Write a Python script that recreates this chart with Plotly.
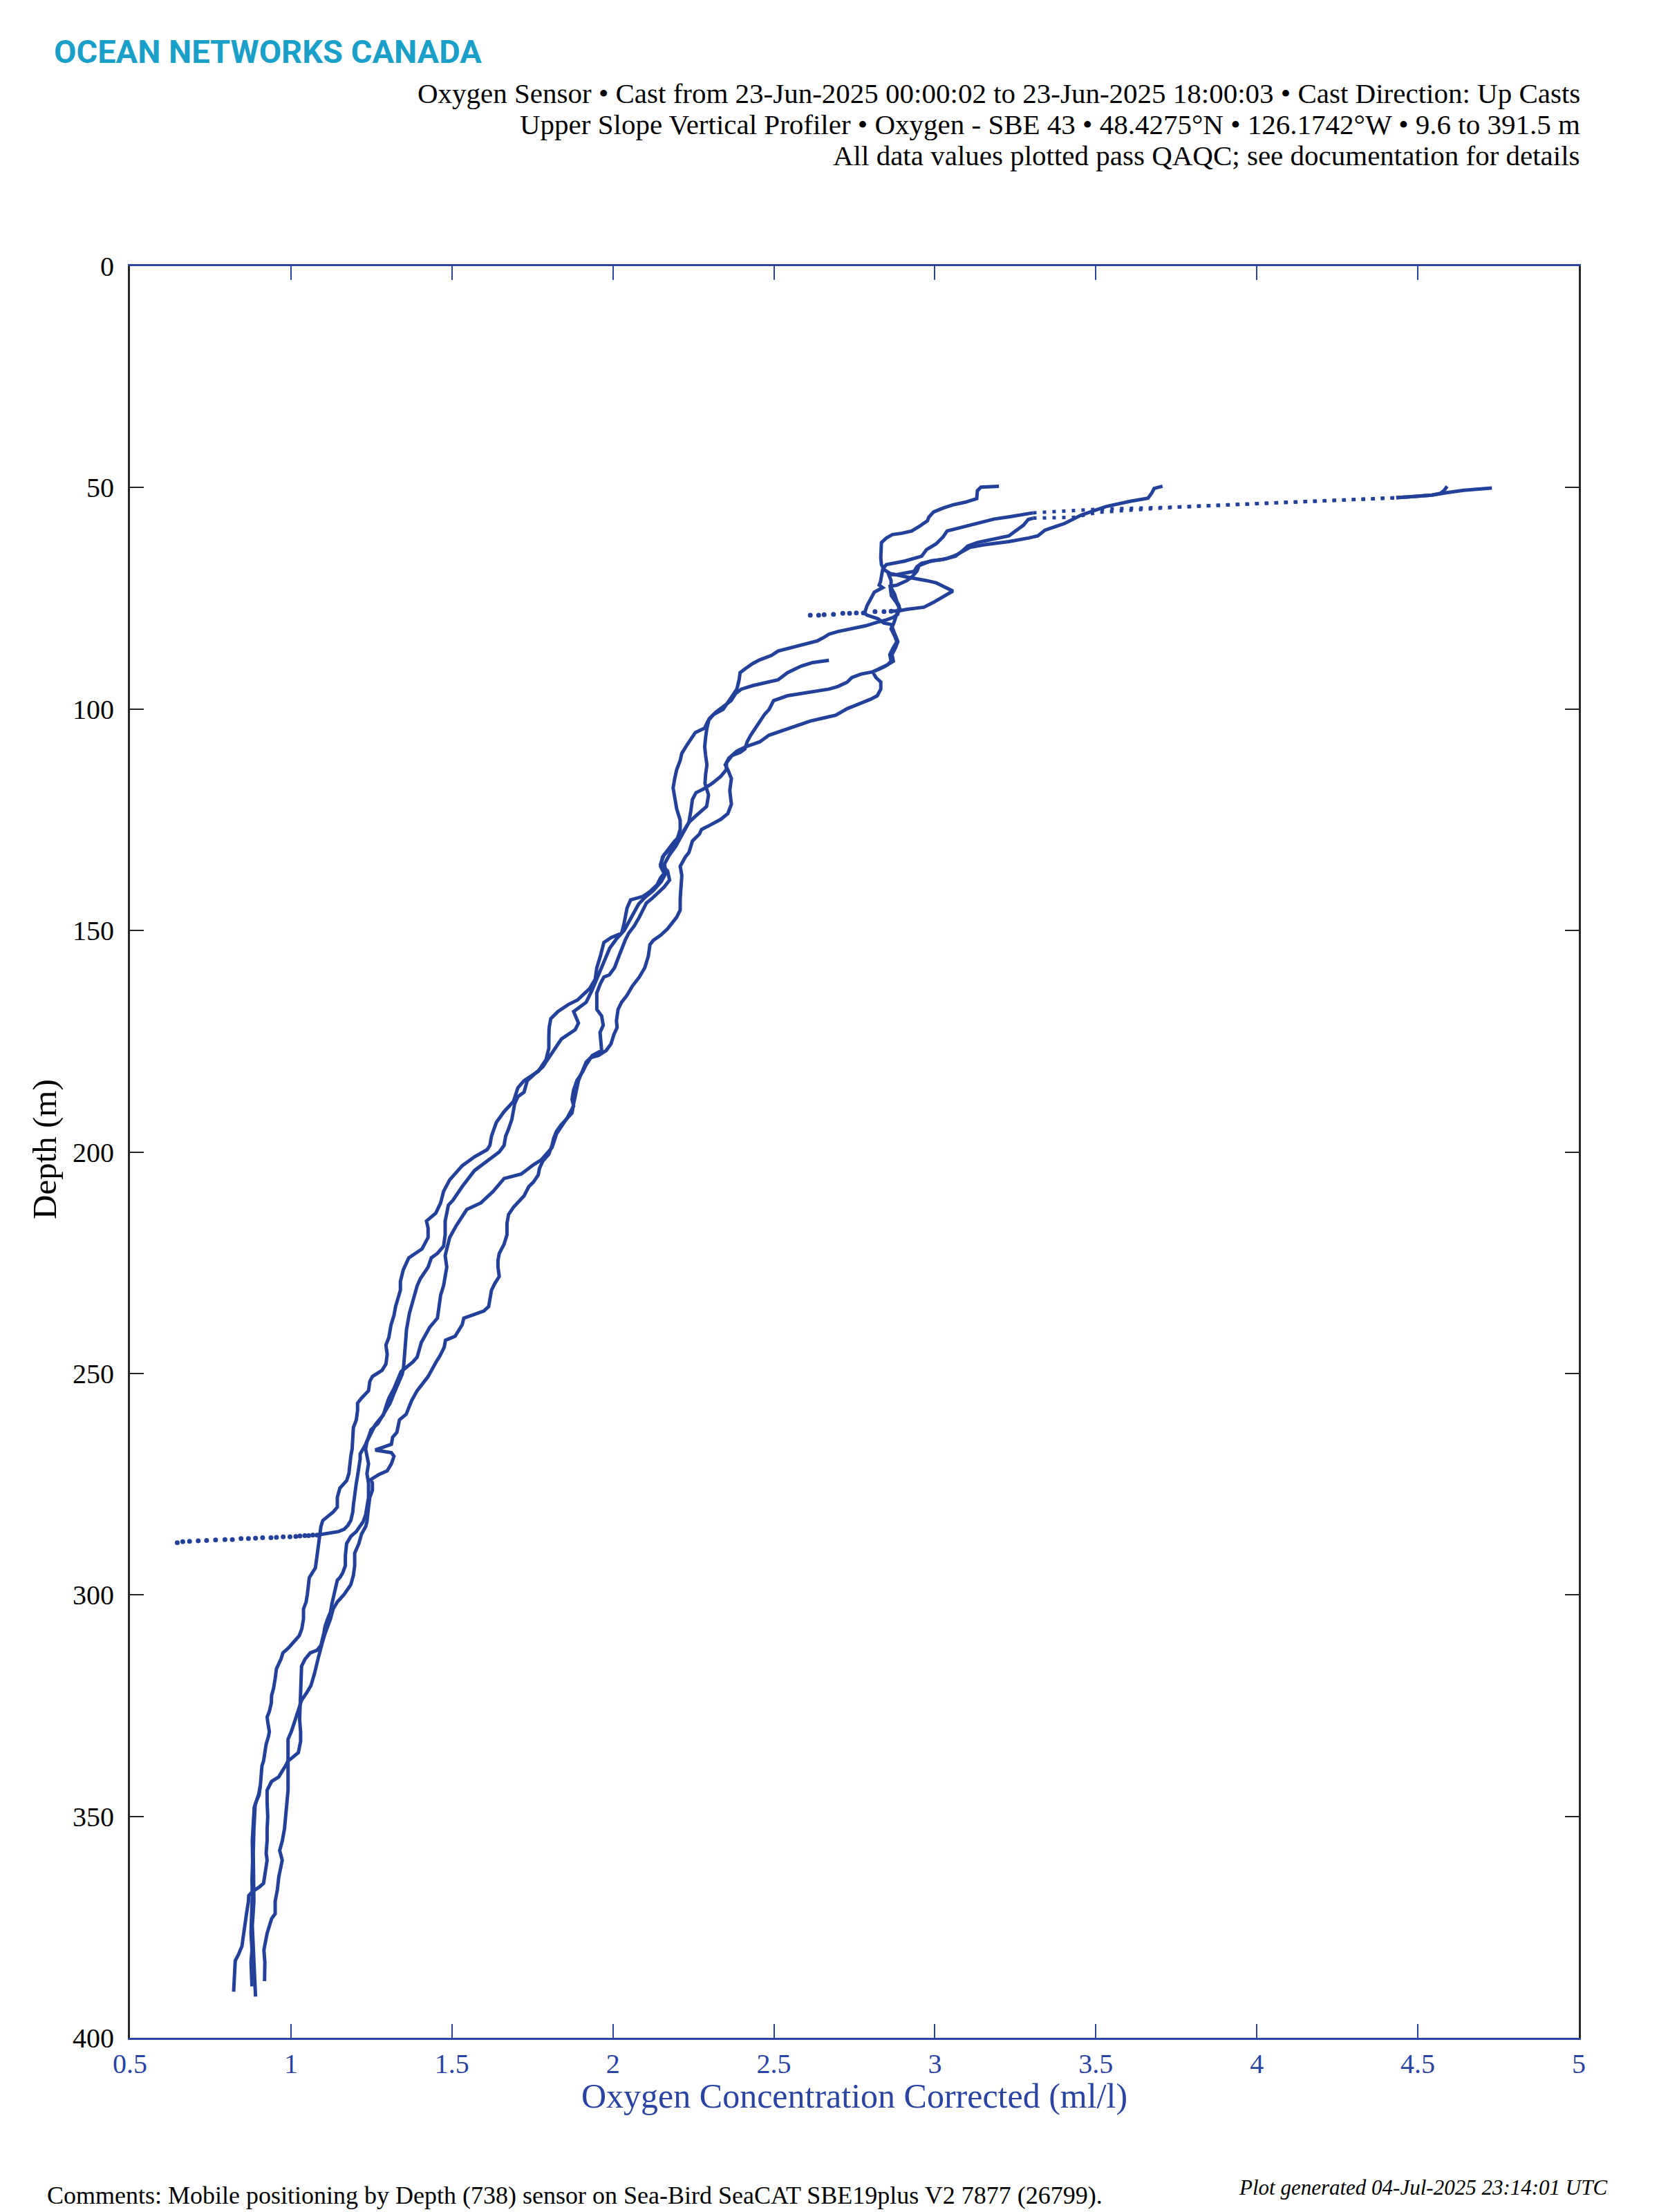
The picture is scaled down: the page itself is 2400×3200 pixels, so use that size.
import plotly.graph_objects as go

# ---------------- data ----------------
# Cast 1 (bottom end 0.89 @ 390.7 m, top ends at the 4.59 hook)
c1_ox = [0.890,0.887,0.883,0.880,0.885,0.883,0.883,0.885,0.887,0.889,0.894,0.901,0.905,0.908,0.910,0.915,0.919,0.923,0.930,0.933,0.928,0.926,0.933,0.939,0.940,0.946,0.951,0.955,0.969,
         0.975,0.992,1.005,1.013,1.026,1.034,1.039,1.039,1.047,1.051,1.055,1.057,1.064,1.076,1.081,1.085,1.089,1.093,1.099,1.114,1.131,1.144,1.144,1.152,1.173,1.180,1.182,1.186,1.190,1.192,1.194,1.203,1.207,1.207,1.219,1.241,1.245,1.253,1.283,1.295,1.299,1.295,1.304,
         1.311,1.320,1.325,1.335,1.340,1.340,1.349,1.366,1.388,1.407,1.426,1.426,1.421,1.450,1.465,1.474,1.493,1.532,1.570,1.609,1.618,1.623,1.638,1.662,1.691,1.705,1.724,1.768,1.792,1.801,1.801,
         1.802,1.807,1.829,1.862,1.890,1.906,1.928,1.945,1.950,1.961,1.967,1.972,1.994,2.027,2.033,2.038,2.044,2.055,2.071,2.093,2.115,2.137,2.148,2.159,2.148,2.154,2.170,2.192,2.214,2.236,2.242,2.247,2.258,2.280,2.308,2.335,2.352,
         2.353,2.370,2.395,2.410,2.417,2.428,2.442,2.456,2.471,2.485,2.492,2.499,2.542,2.585,2.613,2.635,2.671,2.699,2.728,2.742,2.771,2.807,2.828,2.853,2.864,2.860,2.871,2.882,2.875,2.864,2.871,2.883,2.891,2.880,2.865,2.861,2.861,2.883,2.913,2.928,2.944,
         2.951,2.989,3.019,3.064,3.087,3.102,3.132,3.199,3.230,3.245,3.260,3.275,3.290,3.305]
c1_depth = [390.7,385.7,380.2,374.7,369.2,363.8,358.3,352.8,348.4,347.3,346.3,345.2,343.0,340.8,338.6,337.5,335.3,333.7,332.0,330.9,328.7,327.6,326.3,324.4,322.7,321.1,318.9,316.7,314.5,
            313.1,312.0,310.9,310.1,309.2,307.6,305.4,303.2,301.6,299.9,297.7,296.1,295.3,293.9,291.2,289.0,286.8,284.6,283.2,282.4,281.3,280.2,278.0,275.9,274.2,272.6,270.4,268.7,267.1,264.9,262.2,260.5,258.3,256.7,255.6,253.9,251.8,250.7,249.3,247.9,245.7,243.6,241.9,
            239.0,236.9,234.9,232.8,231.2,229.2,226.6,223.9,222.9,221.9,219.3,217.2,215.6,213.8,211.5,208.9,206.3,203.1,201.1,199.5,198.5,196.4,193.3,190.9,188.6,185.5,183.9,181.8,179.2,176.6,174.0,
            171.9,169.9,168.3,166.7,165.7,164.6,163.1,161.0,158.4,155.8,153.7,152.7,151.6,150.6,149.0,147.0,144.9,143.1,142.8,142.3,141.2,139.7,138.1,137.1,135.5,133.4,131.9,129.8,128.2,125.6,123.0,120.4,118.9,118.1,116.8,115.2,113.7,
            112.1,110.5,109.8,109.0,107.4,105.9,104.3,102.7,101.2,100.1,99.1,98.1,97.0,96.5,96.1,95.9,95.5,94.9,93.9,92.9,92.1,91.6,90.8,90.0,89.2,87.7,86.1,84.8,83.5,81.9,80.9,78.3,77.3,75.9,74.4,73.1,72.3,72.0,71.0,70.2,68.9,
            67.6,66.5,66.3,65.5,64.2,63.2,62.4,61.4,60.9,60.1,59.3,58.5,57.2,56.9]
c1_fast_ox = [3.305,3.380,3.433,3.504,3.752,4.000,4.247,4.433]
c1_fast_depth = [56.9,56.8,56.7,55.6,54.4,53.6,52.9,52.3]
c1_end_ox = [4.433,4.500,4.544,4.570,4.581,4.591]
c1_end_depth = [52.3,52.0,51.7,51.3,50.7,49.7]

# Cast 2 (bottom end 0.918 @ 387.2 m, top end 3.71 @ 49.7 m)
c2_ox = [0.918,0.919,0.916,0.923,0.926,0.940,0.951,0.951,0.958,0.962,0.965,0.973,0.965,0.973,0.980,0.983,0.987,0.991,0.991,1.005,1.023,1.030,1.030,1.027,1.028,1.030,1.032,1.033,1.044,
         1.047,1.060,1.081,1.093,1.102,1.106,1.114,1.123,1.127,1.135,1.144,1.152,1.161,1.169,1.169,1.173,1.186,1.203,1.215,1.224,1.232,1.236,1.241,1.241,1.236,1.241,1.232,1.236,1.249,1.262,1.274,1.287,1.295,1.304,1.320,1.333,1.342,1.379,1.392,1.405,1.417,
         1.431,1.455,1.460,1.465,1.474,1.484,1.479,1.493,1.513,1.537,1.546,1.590,1.628,1.662,1.715,1.753,1.777,1.811,1.825,1.859,1.878,1.873,1.878,1.888,1.907,1.917,1.936,1.965,1.960,1.970,1.965,
         1.950,1.950,1.961,1.972,1.989,2.005,2.016,2.027,2.038,2.049,2.066,2.082,2.093,2.104,2.121,2.143,2.159,2.176,2.170,2.148,2.159,2.181,2.198,2.209,2.209,2.198,2.192,2.187,2.192,2.198,2.209,2.214,2.231,
         2.242,2.256,2.285,2.295,2.313,2.342,2.356,2.370,2.385,2.392,2.395,2.413,2.435,2.456,2.492,2.513,2.556,2.599,2.635,2.656,2.671,2.699,2.742,2.785,2.821,2.849,2.871,2.885,2.889,2.882,2.875,2.864,2.864,2.857,2.885,
         2.936,2.944,2.959,2.989,3.034,3.064,3.094,3.109,3.154,3.230,3.290,3.320,3.342,3.403,3.455,3.500,3.531,3.606,3.662,3.674,3.681,3.707]
c2_depth = [387.2,382.9,380.2,377.5,376.4,373.1,372.0,369.2,366.5,363.8,362.7,359.9,357.7,355.6,352.8,349.5,347.3,344.1,337.5,336.7,335.6,333.1,330.9,328.2,325.4,322.7,318.9,316.1,314.5,
            314.2,313.1,312.5,311.4,308.7,307.1,305.4,303.8,302.1,299.4,296.7,296.1,295.0,293.4,291.2,288.4,286.8,285.7,284.6,283.5,281.9,280.2,278.0,274.8,272.6,270.4,267.1,265.4,263.3,261.6,260.5,259.4,257.5,255.6,253.4,251.2,249.6,247.4,246.3,243.0,241.4,
            239.6,237.5,234.4,232.3,230.2,226.0,223.4,219.3,216.7,214.1,213.0,211.5,208.9,206.0,205.0,202.9,201.8,199.0,195.9,192.2,189.6,188.1,186.0,183.9,181.8,180.3,178.2,177.1,173.0,171.4,169.3,
            167.8,164.1,162.0,160.5,160.0,158.4,156.3,154.2,152.2,150.6,149.0,147.0,145.4,143.8,142.8,141.2,140.2,138.6,136.6,135.0,132.9,131.4,129.8,127.2,125.1,122.5,119.9,117.8,115.7,113.7,111.6,110.0,108.0,
            106.9,105.3,104.3,102.7,101.2,100.1,98.6,97.0,95.5,93.4,91.8,90.8,89.7,88.9,87.9,86.9,86.1,85.3,84.6,83.8,83.1,82.5,81.9,81.2,80.4,79.9,79.3,78.6,76.7,75.7,74.1,72.6,71.0,69.7,69.6,
            68.9,67.9,67.1,66.6,66.1,65.3,64.2,63.5,62.9,62.2,61.4,60.9,59.6,58.1,56.2,55.1,54.3,53.1,52.4,51.2,50.2,49.7]

# Cast 3 (bottom end 0.822 @ 389.6 m, top end 4.73 @ 50.1 m)
c3_ox = [0.822,0.825,0.827,0.837,0.848,0.851,0.858,0.862,0.868,0.869,0.880,0.901,0.915,0.920,0.926,0.923,0.926,0.926,0.928,0.926,0.926,0.940,0.962,0.983,0.991,0.991,1.001,1.012,1.023,1.033,1.048,1.062,1.073,1.083,
         1.085,1.097,1.106,1.123,1.131,1.144,1.165,1.186,1.194,1.198,1.198,1.211,1.219,1.232,1.236,1.241,1.245,1.253,1.253,1.249,1.274,1.299,1.312,1.320,1.312,1.262,1.295,1.312,1.316,1.329,1.337,1.358,1.375,1.392,1.409,1.426,1.451,1.463,1.476,1.480,1.510,
         1.532,1.537,1.570,1.599,1.614,1.618,1.623,1.633,1.647,1.643,1.643,1.647,1.662,1.671,1.671,1.676,1.691,1.724,1.739,1.753,1.768,1.772,1.782,1.801,1.811,1.816,1.825,1.840,1.873,1.878,1.883,1.893,1.902,1.917,1.931,1.955,1.979,1.994,2.003,2.013,
         2.011,2.016,2.027,2.044,2.060,2.082,2.099,2.110,2.115,2.126,2.148,2.170,2.198,2.209,2.209,2.214,2.209,2.225,2.236,2.247,2.269,2.275,2.302,2.335,2.357,2.368,2.363,2.368,2.357,
         2.349,2.360,2.385,2.413,2.456,2.485,2.528,2.578,2.613,2.656,2.692,2.728,2.756,2.800,2.821,2.832,2.832,2.817,2.807,2.842,2.871,2.867,2.878,2.885,2.878,2.871,2.864,2.842,
         2.823,2.789,2.782,2.789,2.797,2.808,2.812,2.838,2.827,2.831,2.834,2.838,2.849,2.906,2.959,2.974,3.004,3.026,3.038,3.079,3.132,3.184,3.230,3.305]
c3_depth = [389.6,385.7,382.6,381.2,379.3,377.6,374.7,372.0,369.2,367.9,367.0,366.0,365.1,363.2,359.9,358.3,355.5,352.8,350.1,346.8,344.1,342.1,341.1,338.6,337.5,332.6,330.9,328.5,326.0,323.8,322.2,320.5,317.8,314.5,
            314.2,310.9,308.7,305.4,303.2,301.6,299.9,297.7,295.6,293.4,290.6,288.4,286.3,284.6,283.5,280.2,278.0,276.4,274.8,273.9,272.8,272.0,270.4,268.7,267.9,267.3,266.5,266.0,264.4,263.3,260.5,259.2,256.1,253.9,252.3,250.7,247.4,246.0,244.1,242.5,241.6,
            239.0,237.5,236.7,235.9,234.9,233.3,231.2,229.7,228.1,226.0,224.5,222.9,220.8,218.7,216.1,214.1,212.5,209.9,207.8,206.8,205.2,203.7,202.1,200.5,198.5,196.9,195.3,193.8,191.2,189.1,187.5,183.9,182.3,179.7,178.7,178.2,177.1,175.6,173.5,171.9,
            170.4,167.8,166.2,164.6,162.6,160.5,158.4,155.8,153.2,152.2,151.1,149.6,147.0,145.4,142.8,137.6,135.5,133.4,132.4,129.8,128.2,127.2,126.2,124.9,123.6,121.5,118.4,115.7,113.7,
            112.6,111.1,109.5,108.5,107.4,105.9,104.8,103.5,102.7,102.0,101.4,99.9,99.1,97.8,97.0,95.5,93.9,92.9,91.6,90.5,89.2,87.7,86.1,84.8,83.5,81.9,80.9,80.6,
            79.6,78.8,78.3,76.7,75.7,74.4,73.6,72.6,72.0,71.3,69.5,68.4,67.4,66.6,65.5,64.0,62.7,61.1,59.8,59.0,58.1,57.1,56.6,55.7]
c3_fast_ox = [3.305,3.380,3.455,3.504,3.752,4.000,4.247,4.433]
c3_fast_depth = [55.7,55.4,55.1,54.9,54.4,53.6,52.9,52.3]
c3_end_ox = [4.433,4.500,4.544,4.593,4.643,4.730]
c3_end_depth = [52.3,52.0,51.7,51.1,50.6,50.1]

# Cast 4 (starts at 288 m, ends 2.67 @ 89 m)
c4_start_ox = [0.647,0.664,0.685,0.712,0.738,0.766,0.795,0.818,0.845,0.868,0.890,0.912,0.938,0.955,0.976,0.997,1.015,1.028,1.043,1.055,1.068,1.081]
c4_start_depth = [288.2,288.0,287.9,287.8,287.7,287.6,287.5,287.5,287.3,287.3,287.2,287.1,287.1,287.0,286.9,286.9,286.8,286.7,286.6,286.6,286.5,286.5]
c4_ox = [1.081,1.089,1.123,1.148,1.165,1.177,1.186,1.192,1.194,1.197,1.198,1.203,1.207,1.211,1.215,1.215,1.224,1.232,1.241,1.249,1.270,1.291,1.308,1.320,1.333,1.346,1.350,1.354,1.358,
         1.359,1.368,1.378,1.392,1.402,1.426,1.436,1.455,1.474,1.479,1.479,1.489,1.503,1.532,1.570,1.628,1.647,1.662,1.667,1.676,1.686,1.695,1.705,1.724,1.734,1.758,1.782,1.792,1.811,1.825,1.840,1.883,1.893,1.878,1.917,
         1.935,1.955,1.975,1.990,2.010,2.035,2.050,2.065,2.080,2.100,2.125,2.150,2.165,2.160,2.175,2.195,2.215,2.236,2.258,2.291,2.297,2.286,
         2.288,2.292,2.288,2.285,2.288,2.292,2.299,2.320,2.349,2.367,2.381,2.399,2.435,2.478,2.513,2.542,2.564,2.585,2.621,2.671]
c4_depth = [286.5,286.4,286.0,285.7,285.2,284.3,283.2,281.3,279.7,278.0,276.4,274.8,273.1,271.5,269.3,268.2,267.1,266.0,264.4,262.7,261.3,258.9,256.7,254.5,252.3,250.1,248.5,244.6,240.8,
            240.1,236.4,233.8,230.2,228.6,226.0,223.9,222.9,221.3,218.7,215.6,212.0,210.9,207.8,204.2,201.1,200.0,198.5,196.4,194.8,192.7,189.1,187.5,186.5,183.9,182.3,180.8,179.7,177.7,176.1,174.5,172.4,170.9,168.3,166.2,
            163.5,160.0,157.0,154.0,152.0,150.0,148.0,146.0,144.0,142.5,141.0,139.0,137.0,135.0,133.0,131.0,128.5,125.6,124.1,122.0,119.4,116.8,
            114.7,112.6,110.5,108.5,106.4,104.3,102.2,100.7,99.1,98.1,96.5,95.5,94.7,93.9,93.4,91.8,91.0,90.3,89.5,89.0]

# Cast 5 (short, starts at 78.8 m, ends 3.2 @ 49.7 m)
c5_start_ox = [2.613,2.639,2.656,2.685,2.714,2.735,2.756,2.778,2.814,2.842,2.864]
c5_start_depth = [78.8,78.8,78.7,78.6,78.4,78.4,78.3,78.3,78.0,78.0,77.9]
c5_ox = [2.864,2.891,2.913,2.966,2.996,3.026,3.056,3.004,2.974,2.913,2.861,2.842,2.834,2.832,2.834,2.834,2.849,2.868,2.898,2.928,2.951,2.977,2.981,2.996,3.026,3.056,3.094,3.130,3.132,3.143,3.199]
c5_depth = [77.9,77.8,77.5,77.0,75.9,74.7,73.35,71.5,71.0,70.2,69.4,68.5,67.4,65.8,63.7,62.4,61.4,60.6,60.3,59.8,58.8,57.5,56.7,55.5,54.6,53.9,53.3,52.5,50.7,49.9,49.7]

# Cast 6 (bottom end 0.879 @ 388.4 m, runs alongside cast 1)
c6_ox = [0.879,0.878,0.876,0.879,0.876,0.878,0.880,0.879,0.881,0.880,0.882,0.886,0.893,0.900,0.905]
c6_depth = [388.4,385.7,382.9,380.2,376.4,372.0,368.1,364.3,360.0,355.5,351.2,348.0,346.5,345.0,343.0]

x_tick_vals = [0.5,1,1.5,2,2.5,3,3.5,4,4.5,5]
x_tick_text = ["0.5","1","1.5","2","2.5","3","3.5","4","4.5","5"]
y_tick_vals = [0,50,100,150,200,250,300,350,400]
y_tick_text = ["0","50","100","150","200","250","300","350","400"]

header_lines = [
    "Oxygen Sensor • Cast from 23-Jun-2025 00:00:02 to 23-Jun-2025 18:00:03 • Cast Direction: Up Casts",
    "Upper Slope Vertical Profiler • Oxygen - SBE 43 • 48.4275°N • 126.1742°W • 9.6 to 391.5 m",
    "All data values plotted pass QAQC; see documentation for details",
]
brand = "OCEAN NETWORKS CANADA"
x_title = "Oxygen Concentration Corrected (ml/l)"
y_title = "Depth (m)"
comments = "Comments: Mobile positioning by Depth (738) sensor on Sea-Bird SeaCAT SBE19plus V2 7877 (26799)."
generated = "Plot generated 04-Jul-2025 23:14:01 UTC"

# ---------------- styling ----------------
LINE = "#23419b"
XBLUE = "#2a44a3"
DARK = "#262626"
SERIF = "Liberation Serif, DejaVu Serif, serif"
LW = 5

fig = go.Figure()

def solid(x, y):
    fig.add_trace(go.Scatter(x=x, y=y, mode="lines", line=dict(color=LINE, width=LW),
                             showlegend=False, hoverinfo="skip"))

def sparse_line(x, y):
    fig.add_trace(go.Scatter(x=x, y=y, mode="lines", line=dict(color=LINE, width=LW, dash="5px,9px"),
                             showlegend=False, hoverinfo="skip"))

def dots(x, y):
    fig.add_trace(go.Scatter(x=x, y=y, mode="markers", marker=dict(color=LINE, size=7),
                             showlegend=False, hoverinfo="skip"))

solid(c6_ox, c6_depth)
solid(c1_ox, c1_depth); sparse_line(c1_fast_ox, c1_fast_depth); solid(c1_end_ox, c1_end_depth)
solid(c2_ox, c2_depth)
solid(c3_ox, c3_depth); sparse_line(c3_fast_ox, c3_fast_depth); solid(c3_end_ox, c3_end_depth)
dots(c4_start_ox, c4_start_depth); solid(c4_ox, c4_depth)
dots(c5_start_ox, c5_start_depth); solid(c5_ox, c5_depth)

# page offset of the figure inside the browser page
OFF = 8
W, H = 2400, 3200
PL, PR, PT, PB = 180, 124, 377, 260
pw, ph = W - PL - PR, H - PT - PB

def px_x(xpix):
    return (xpix - OFF - PL) / pw

def px_y(ypix):
    return (H - PB - (ypix - OFF)) / ph

ann = []
ann.append(dict(text="<b>" + brand + "</b>", x=px_x(76), y=px_y(75), xref="paper", yref="paper",
                xanchor="left", yanchor="middle", showarrow=False,
                font=dict(family="Roboto, Open Sans, sans-serif", size=47, color="#1aa0c8")))
for i, t in enumerate(header_lines):
    ann.append(dict(text=t, x=px_x(2288), y=px_y(135 + 45 * i), xref="paper", yref="paper",
                    xanchor="right", yanchor="middle", showarrow=False,
                    font=dict(family=SERIF, size=41, color="black")))
ann.append(dict(text=x_title, x=px_x(1236), y=px_y(3032), xref="paper", yref="paper",
                xanchor="center", yanchor="middle", showarrow=False,
                font=dict(family=SERIF, size=50, color=XBLUE)))
ann.append(dict(text=y_title, x=px_x(64), y=px_y(1663), xref="paper", yref="paper",
                xanchor="center", yanchor="middle", showarrow=False, textangle=-90,
                font=dict(family=SERIF, size=49, color="black")))
ann.append(dict(text=comments, x=px_x(66), y=px_y(3176), xref="paper", yref="paper",
                xanchor="left", yanchor="middle", showarrow=False,
                font=dict(family=SERIF, size=36, color="black")))
ann.append(dict(text="<i>" + generated + "</i>", x=px_x(2327), y=px_y(3164), xref="paper", yref="paper",
                xanchor="right", yanchor="middle", showarrow=False,
                font=dict(family=SERIF, size=31, color="black")))

fig.update_layout(
    width=W, height=H,
    margin=dict(l=PL, r=PR, t=PT, b=PB, autoexpand=False),
    paper_bgcolor="white", plot_bgcolor="white",
    showlegend=False,
    annotations=ann,
    xaxis=dict(range=[0.5, 5], tickmode="array", tickvals=x_tick_vals, ticktext=x_tick_text,
               ticks="inside", ticklen=20, tickwidth=2, tickcolor=XBLUE,
               showline=True, linecolor=XBLUE, linewidth=3, mirror="ticks",
               showgrid=False, zeroline=False, ticklabelstandoff=0,
               tickfont=dict(family=SERIF, size=40, color=XBLUE)),
    yaxis=dict(range=[400, 0], tickmode="array", tickvals=y_tick_vals, ticktext=y_tick_text,
               ticks="inside", ticklen=20, tickwidth=2, tickcolor=DARK,
               showline=True, linecolor=DARK, linewidth=3, mirror="ticks",
               showgrid=False, zeroline=False, ticklabelstandoff=12,
               tickfont=dict(family=SERIF, size=40, color="black")),
)

fig.write_html("out.html")
